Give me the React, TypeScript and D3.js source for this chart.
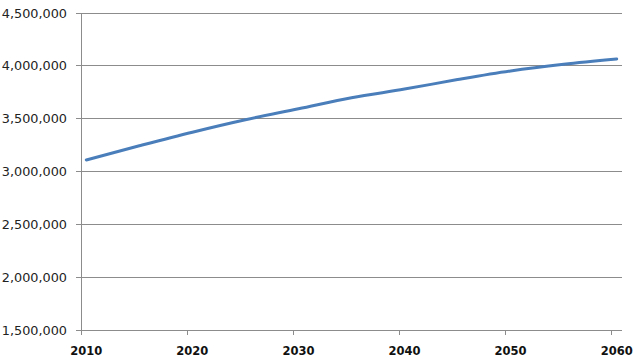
import React from "react";
import * as d3 from "d3";

const years = [2010, 2015, 2020, 2025, 2030, 2035, 2040, 2045, 2050, 2055, 2060];
const population = [3109000, 3243000, 3372000, 3490000, 3593000, 3698000, 3780000, 3870000, 3952000, 4015000, 4065000];
const yTicks = [1500000, 2000000, 2500000, 3000000, 3500000, 4000000, 4500000];
const xTickLabels = [2010, 2020, 2030, 2040, 2050, 2060];

const W = 640;
const H = 360;

export default function App() {
  const x = d3.scaleLinear().domain([2009.5, 2060.5]).range([81, 622]);
  const y = d3.scaleLinear().domain([1500000, 4500000]).range([330, 13]);
  const fmt = d3.format(",");
  const line = d3
    .line<number>()
    .x((_, i) => x(years[i]))
    .y((d) => y(d))
    .curve(d3.curveMonotoneX);

  const axisColor = "#8c8c8c";

  return (
    <svg
      width={W}
      height={H}
      style={{ position: "absolute", left: 0, top: 0, background: "#fff" }}
    >
      {yTicks.map((t) => (
        <g key={t}>
          <line x1={76} x2={622} y1={y(t)} y2={y(t)} stroke={axisColor} strokeWidth={1} shapeRendering="crispEdges" />
          <text
            x={67}
            y={y(t)}
            textAnchor="end"
            dominantBaseline="central"
            fontFamily="DejaVu Sans"
            fontSize={12.8}
            fill="#222"
          >
            {fmt(t)}
          </text>
        </g>
      ))}
      <line x1={81} x2={81} y1={13} y2={330} stroke={axisColor} strokeWidth={1} shapeRendering="crispEdges" />
      {xTickLabels.map((t) => (
        <g key={t}>
          <line
            x1={x(t - 0.5)}
            x2={x(t - 0.5)}
            y1={330}
            y2={335}
            stroke={axisColor}
            strokeWidth={1}
            shapeRendering="crispEdges"
          />
          <text
            x={x(t)}
            y={351}
            textAnchor="middle"
            dominantBaseline="central"
            fontFamily="DejaVu Sans"
            fontWeight="bold"
            fontSize={11.5}
            fill="#111"
          >
            {t}
          </text>
        </g>
      ))}
      <path d={line(population) || ""} fill="none" stroke="#4a7ebb" strokeWidth={3} strokeLinecap="round" strokeLinejoin="round" />
    </svg>
  );
}
